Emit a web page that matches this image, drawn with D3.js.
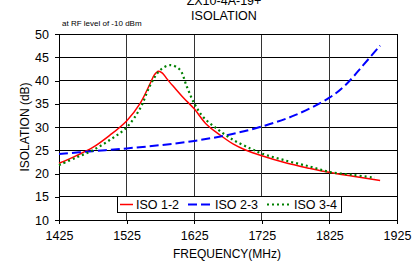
<!DOCTYPE html>
<html><head><meta charset="utf-8">
<script src="https://cdn.jsdelivr.net/npm/d3@7"></script>
<style>body{margin:0;background:#fff}svg{display:block;font-family:"Liberation Sans",Arial,sans-serif}</style>
</head><body><svg id="c" width="420" height="266"></svg>
<script>
const xTicks = [1425, 1525, 1625, 1725, 1825, 1925];
const yTicks = [10, 15, 20, 25, 30, 35, 40, 45, 50];
const seriesNames = ["ISO 1-2", "ISO 2-3", "ISO 3-4"];
const iso12Freq = [1425,1450,1475,1500,1525,1545,1560,1566,1572,1578,1585,1595,1609,1625,1643,1663,1683,1700,1725,1760,1796,1826,1860,1900];
const iso12Val  = [22.2,23.8,25.6,28.2,31.3,35.1,39.4,41.2,42.0,41.6,40.3,38.6,36.3,33.9,30.6,28.3,26.3,25.1,23.8,22.3,21.1,20.2,19.4,18.5];
const iso23Freq = [1425,1475,1525,1575,1625,1675,1725,1775,1825,1850,1875,1900];
const iso23Val  = [24.2,24.8,25.4,26.1,27.0,28.3,30.1,32.6,36.3,39.2,43.3,47.5];
const iso34Freq = [1425,1450,1475,1500,1525,1545,1560,1575,1590,1604,1614,1625,1638,1658,1683,1708,1725,1760,1796,1826,1860,1892];
const iso34Val  = [21.8,23.4,25.0,27.2,29.9,34.0,39.0,42.3,43.3,42.3,38.7,35.1,32.2,29.7,27.2,25.4,24.3,22.8,21.5,20.3,19.7,19.1];

const svg = d3.select("#c");
const L = 59, R = 397, T = 34, B = 220;
const x = d3.scaleLinear().domain([1425, 1925]).range([L, R]);
const y = d3.scaleLinear().domain([10, 50]).range([B, T]);

// grid
svg.append("g").selectAll("line").data(yTicks).join("line")
  .attr("x1", L).attr("x2", R).attr("y1", d => y(d)).attr("y2", d => y(d))
  .attr("stroke", "#000").attr("stroke-width", 1).attr("shape-rendering", "crispEdges");
svg.append("g").selectAll("line").data(xTicks).join("line")
  .attr("y1", T).attr("y2", B).attr("x1", d => x(d)).attr("x2", d => x(d))
  .attr("stroke", "#333").attr("stroke-width", 1).attr("shape-rendering", "crispEdges");
svg.append("rect").attr("x", L).attr("y", T).attr("width", R - L).attr("height", B - T)
  .attr("fill", "none").attr("stroke", "#000").attr("shape-rendering", "crispEdges");

// axes
const ya = svg.append("g").attr("transform", `translate(${L},0)`)
  .call(d3.axisLeft(y).tickValues(yTicks).tickSize(4).tickPadding(6));
const xa = svg.append("g").attr("transform", `translate(0,${B})`)
  .call(d3.axisBottom(x).tickValues(xTicks).tickFormat(d3.format("d")).tickSize(4).tickPadding(7));
[ya, xa].forEach(g => {
  g.select(".domain").remove();
  g.selectAll("line").attr("stroke", "#000").attr("shape-rendering", "crispEdges");
  g.selectAll("text").attr("fill", "#000").style("font-size", "12.5px").style("font-family", "Liberation Sans, Arial, sans-serif");
});

// lines
const mk = (fr, vs) => fr.map((f, i) => ({f, v: vs[i]}));
const line = d3.line().x(d => x(d.f)).y(d => y(d.v)).curve(d3.curveCatmullRom.alpha(0.5));
const series = [
  {name: seriesNames[0], data: mk(iso12Freq, iso12Val), color: "#ff0000", dash: null, w: 1.5},
  {name: seriesNames[1], data: mk(iso23Freq, iso23Val), color: "#0000ff", dash: "9,4", w: 2},
  {name: seriesNames[2], data: mk(iso34Freq, iso34Val), color: "#008000", dash: "2,3", w: 2.2}
];
series.forEach(s => {
  svg.append("path").attr("d", line(s.data)).attr("fill", "none")
    .attr("stroke", s.color).attr("stroke-width", s.w).attr("stroke-dasharray", s.dash);
});

// titles
svg.append("text").attr("x", 224).attr("y", 4.5).attr("text-anchor", "middle").style("font-size", "12.5px").text("ZX10-4A-19+");
svg.append("text").attr("x", 224).attr("y", 20).attr("text-anchor", "middle").style("font-size", "12.5px").text("ISOLATION");
svg.append("text").attr("x", 62).attr("y", 25.5).style("font-size", "8px").text("at RF level of -10 dBm");
svg.append("text").attr("x", 227).attr("y", 258).attr("text-anchor", "middle").style("font-size", "12px").text("FREQUENCY(MHz)");
svg.append("text").attr("transform", "translate(29,127) rotate(-90)").attr("text-anchor", "middle").style("font-size", "12px").text("ISOLATION (dB)");

// legend
const lg = svg.append("g");
lg.append("rect").attr("x", 117.5).attr("y", 196.5).attr("width", 224).attr("height", 16)
  .attr("fill", "#fff").attr("stroke", "#000");
const lx = [{a: 120, b: 133, t: 136}, {a: 188, b: 212, t: 215}, {a: 267, b: 292, t: 294}];
series.forEach((s, i) => {
  lg.append("line").attr("x1", lx[i].a).attr("x2", lx[i].b).attr("y1", 204.5).attr("y2", 204.5)
    .attr("stroke", s.color).attr("stroke-width", s.w).attr("stroke-dasharray", s.dash);
  lg.append("text").attr("x", lx[i].t).attr("y", 209).style("font-size", "12.5px").text(s.name);
});
</script></body></html>
